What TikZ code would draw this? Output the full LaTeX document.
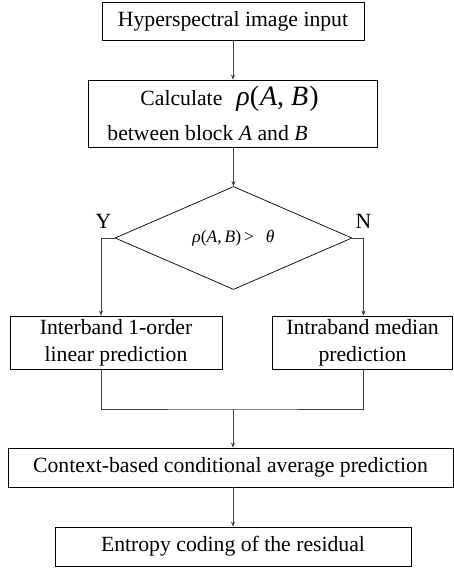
\documentclass[tikz,border=0pt]{standalone}
\usepackage{fontspec}
\setmainfont{Liberation Serif}
\usetikzlibrary{shapes.geometric,arrows.meta,calc}
\begin{document}
\begin{tikzpicture}[x=1pt,y=-1pt,
  box/.style={draw=black,line width=0.7pt,inner sep=0pt,align=center,font=\fontsize{21.7}{27}\selectfont},
  conn/.style={draw=black!75,line width=0.8pt},
  arr/.style={conn,-{Stealth[length=5pt,width=4pt]}},
  lbl/.style={font=\fontsize{21.7}{24}\selectfont,inner sep=0pt}]
\useasboundingbox (0,0) rectangle (453,569);
\node[box,align=left,minimum width=262pt,minimum height=38pt,align=center] (b1) at (233,21.7) {Hyperspectral image input};
\node[box,align=left,minimum width=289pt,minimum height=67pt,font=\fontsize{21.7}{34}\selectfont] (b2) at (232.5,113.5)
  {\hspace*{33pt}Calculate\hspace{14pt}{\fontsize{28}{28}\selectfont\itshape ρ\upshape(\hspace{1pt}\itshape A\upshape, \itshape B\upshape\hspace{1pt})}\\[1pt]between block \textit{A} and \textit{B}\hspace*{50pt}};
\node[draw=black,line width=0.7pt,diamond,inner sep=0pt,minimum width=237pt,minimum height=103pt,font=\fontsize{17.5}{20}\selectfont] (d) at (233.5,238)
  {\raisebox{-1pt}{\itshape ρ\upshape(\itshape A\upshape,\,\itshape B\upshape)\,>\hspace{12pt}\itshape θ}};
\node[box,minimum width=212pt,minimum height=53pt] (b3) at (116,342.5) {Interband 1-order\\linear prediction};
\node[box,minimum width=180pt,minimum height=53pt] (b4) at (362.5,342.5) {Intraband median\\prediction};
\node[box,minimum width=445pt,minimum height=39pt] (b5) at (230.5,467.5) {Context-based conditional average prediction};
\node[box,minimum width=356pt,minimum height=39pt] (b6) at (233,546.5) {Entropy coding of the residual};
\node[lbl] (y) at (103.5,221) {Y};
\node[lbl] (n) at (363.5,221) {N};
\coordinate (m) at (233,409);
\draw[arr] (b1.south) -- (b1.south |- b2.north);
\draw[arr] (b2.south -| d.north) -- (d.north);
\draw[arr] (d.west) -| ([xshift=-15pt]b3.north);
\draw[arr] (d.east) -| ([xshift=1pt]b4.north);
\draw[conn] ([xshift=-15pt]b3.south) |- (m) -| ([xshift=1pt]b4.south);
\draw[arr] (m) -- (m |- b5.north);
\draw[arr] (b5.south -| b6.north) -- (b6.north);
\end{tikzpicture}
\end{document}
